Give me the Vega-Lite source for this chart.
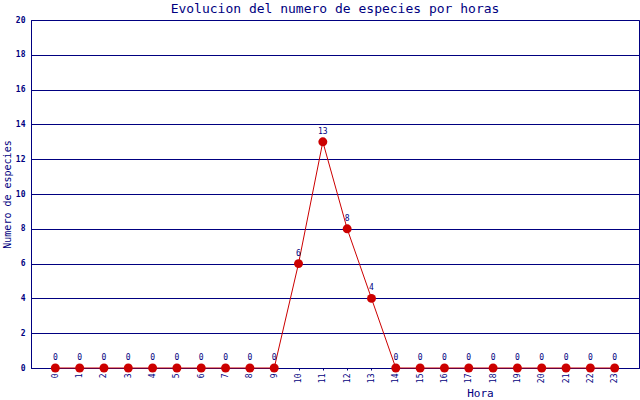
{
  "$schema": "https://vega.github.io/schema/vega-lite/v6.json",
  "autosize": "none",
  "width": 608,
  "height": 348,
  "padding": {"left": 31, "top": 20, "right": 1, "bottom": 32},
  "background": "white",
  "title": {
    "text": "Evolucion del numero de especies por horas",
    "font": "DejaVu Sans Mono",
    "fontSize": 13,
    "fontWeight": "normal",
    "color": "#000080",
    "anchor": "middle",
    "offset": 0
  },
  "data": {
    "values": [
      {"hora": 0, "n": 0}, {"hora": 1, "n": 0}, {"hora": 2, "n": 0},
      {"hora": 3, "n": 0}, {"hora": 4, "n": 0}, {"hora": 5, "n": 0},
      {"hora": 6, "n": 0}, {"hora": 7, "n": 0}, {"hora": 8, "n": 0},
      {"hora": 9, "n": 0}, {"hora": 10, "n": 6}, {"hora": 11, "n": 13},
      {"hora": 12, "n": 8}, {"hora": 13, "n": 4}, {"hora": 14, "n": 0},
      {"hora": 15, "n": 0}, {"hora": 16, "n": 0}, {"hora": 17, "n": 0},
      {"hora": 18, "n": 0}, {"hora": 19, "n": 0}, {"hora": 20, "n": 0},
      {"hora": 21, "n": 0}, {"hora": 22, "n": 0}, {"hora": 23, "n": 0}
    ]
  },
  "encoding": {
    "x": {
      "field": "hora",
      "type": "ordinal",
      "scale": {"type": "point", "padding": 1},
      "axis": {
        "title": "Hora",
        "titleX": 449,
        "titleY": 28,
        "titleAnchor": null,
        "titleAlign": "center",
        "titleBaseline": "alphabetic",
        "titleFont": "DejaVu Sans Mono",
        "titleFontSize": 11,
        "titleFontWeight": "normal",
        "titleColor": "#000080",
        "labelAngle": -90,
        "labelFont": "DejaVu Sans Mono",
        "labelFontSize": 8,
        "labelColor": "#000080",
        "labelPadding": 3,
        "tickSize": 2,
        "tickColor": "#000080",
        "domainColor": "#000080",
        "grid": false
      }
    },
    "y": {
      "field": "n",
      "type": "quantitative",
      "scale": {"domain": [0, 20], "nice": false},
      "axis": {
        "title": "Numero de especies",
        "titleFont": "DejaVu Sans Mono",
        "titleFontSize": 10,
        "titleFontWeight": "normal",
        "titleColor": "#000080",
        "titlePadding": 3,
        "values": [0, 2, 4, 6, 8, 10, 12, 14, 16, 18, 20],
        "labelFont": "DejaVu Sans Mono",
        "labelFontSize": 8,
        "labelFontWeight": "bold",
        "labelColor": "#000080",
        "labelPadding": 6,
        "ticks": false,
        "domainColor": "#000080",
        "grid": true,
        "gridColor": "#000080",
        "gridOpacity": 1,
        "gridWidth": 1
      }
    }
  },
  "layer": [
    {"mark": {"type": "line", "color": "#cc0000", "strokeWidth": 1}},
    {"mark": {"type": "point", "filled": true, "color": "#cc0000", "opacity": 1, "size": 80}},
    {
      "mark": {"type": "text", "dy": -10, "font": "DejaVu Sans Mono", "fontSize": 8, "color": "#000080"},
      "encoding": {"text": {"field": "n", "type": "quantitative"}}
    }
  ],
  "config": {
    "view": {"stroke": "#000080", "strokeWidth": 1}
  }
}
